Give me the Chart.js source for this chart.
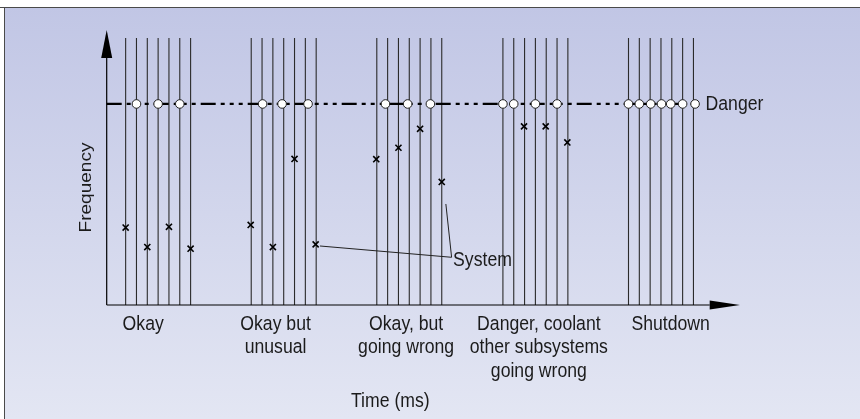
<!DOCTYPE html>
<html>
<head>
<meta charset="utf-8">
<script src="https://cdn.jsdelivr.net/npm/chart.js@4.4.1/dist/chart.umd.min.js"></script>
<style>
html,body{margin:0;padding:0;background:#fff;}
#wrap{width:860px;height:419px;position:relative;}
canvas{display:block;}
</style>
</head>
<body>
<div id="wrap"><canvas id="c" width="860" height="419"></canvas></div>
<script>
// ---- data (time units along x, frequency units along y) ----
const lineX = [1.75,2.75,3.75,4.75,5.75,6.75,7.75,
               13.35,14.35,15.35,16.35,17.35,18.35,19.35,
               24.95,25.95,26.95,27.95,28.95,29.95,30.95,
               36.6,37.6,38.6,39.6,40.6,41.6,42.6,
               48.2,49.2,50.2,51.2,52.2,53.2,54.2];
const lineTop = 100;
const dangerLevel = 75.3;
const dangerX = [2.75,4.75,6.75, 14.4,16.2,18.6, 25.75,27.8,29.9,
                 36.6,37.6,39.6,41.6, 48.2,49.2,50.25,51.25,52.1,53.2,54.35];
const dangerLineX = [0, 54.35];
const systemX = [1.75,3.75,5.75,7.75, 13.3,15.35,17.35,19.3,
                 24.9,26.95,28.95,30.95, 38.55,40.55,42.55];
const systemY = [29,21.7,29.3,21.1, 30,21.7,54.7,22.7,
                 54.6,58.9,66,46.1, 66.9,66.9,60.9];
const leaderX = [19.7, 31.86, 31.33];
const leaderY = [22.1, 17.87, 37.83];
const categories = [["Okay"],["Okay but","unusual"],["Okay, but","going wrong"],
                    ["Danger, coolant","other subsystems","going wrong"],["Shutdown"]];
const categoryX = [3.37, 15.6, 27.66, 39.92, 52.09];
const xTitle = "Time (ms)";
const yTitle = "Frequency";
const dangerLabel = "Danger";
const systemLabel = "System";
const xMin = 0, xMax = 58.5, yMin = 0, yMax = 103;
const xArrowBase = 55.7, yArrowBase = 92.5;

// ---- build library structures ----
const vLines = [];
lineX.forEach(x => { vLines.push({x:x,y:0}); vLines.push({x:x,y:lineTop}); vLines.push({x:x,y:null}); });
const dangerPts = dangerX.map(x => ({x:x, y:dangerLevel}));
const dangerLine = dangerLineX.map(x => ({x:x, y:dangerLevel}));
const systemPts = systemX.map((x,i) => ({x:x, y:systemY[i]}));
const leaderPts = leaderX.map((x,i) => ({x:x, y:leaderY[i]}));

const FONT = '"Liberation Sans", Arial, sans-serif';
function txt(ctx, s, x, y, size, sx, align, rot){
  ctx.save();
  ctx.translate(x, y);
  if (rot) ctx.rotate(rot);
  ctx.scale(sx, 1);
  ctx.font = size + 'px ' + FONT;
  ctx.textAlign = align;
  ctx.textBaseline = 'alphabetic';
  ctx.fillStyle = '#1b1b1b';
  ctx.fillText(s, 0, 0);
  ctx.restore();
}

const decor = {
  id: 'decor',
  beforeDraw(chart){
    const ctx = chart.ctx;
    ctx.save();
    ctx.fillStyle = '#ffffff';
    ctx.fillRect(0,0,chart.width,chart.height);
    const g = ctx.createLinearGradient(0,7,0,419);
    g.addColorStop(0,'#c1c6e5');
    g.addColorStop(1,'#e3e6f3');
    ctx.fillStyle = g;
    ctx.fillRect(4.5,7.5,chart.width,chart.height);
    ctx.strokeStyle = '#4a4a4a';
    ctx.lineWidth = 1;
    ctx.beginPath();
    ctx.moveTo(0,7.5); ctx.lineTo(chart.width,7.5);
    ctx.moveTo(4.5,7.5); ctx.lineTo(4.5,chart.height);
    ctx.stroke();
    ctx.restore();
  },
  afterDatasetsDraw(chart){
    const ctx = chart.ctx;
    const xs = chart.scales.x, ys = chart.scales.y;
    const x0 = xs.getPixelForValue(xMin), y0 = ys.getPixelForValue(yMin);
    const xt = xs.getPixelForValue(xMax), yt = ys.getPixelForValue(yMax);
    const xb = xs.getPixelForValue(xArrowBase), yb = ys.getPixelForValue(yArrowBase);
    ctx.save();
    ctx.strokeStyle = '#000'; ctx.fillStyle = '#000'; ctx.lineWidth = 1.2;
    ctx.beginPath();
    ctx.moveTo(x0, y0); ctx.lineTo(x0, yb);
    ctx.moveTo(x0, y0); ctx.lineTo(xb, y0);
    ctx.stroke();
    ctx.beginPath();
    ctx.moveTo(x0, yt); ctx.lineTo(x0-5.5, yb); ctx.lineTo(x0+5.5, yb); ctx.closePath(); ctx.fill();
    ctx.beginPath();
    ctx.moveTo(xt, y0); ctx.lineTo(xb, y0-4.5); ctx.lineTo(xb, y0+4.5); ctx.closePath(); ctx.fill();
    ctx.restore();

    const S = 20.5, SX = 0.86;
    categories.forEach((lines, i) => {
      const cx = xs.getPixelForValue(categoryX[i]);
      lines.forEach((l, j) => txt(ctx, l, cx, y0 + 24.5 + j*23.5, S, SX, 'center'));
    });
    txt(ctx, xTitle, xs.getPixelForValue(26.2), y0 + 102, S, SX, 'center');
    txt(ctx, dangerLabel, xs.getPixelForValue(dangerLineX[1]) + 10.5, ys.getPixelForValue(dangerLevel) + 6.5, S, SX, 'left');
    txt(ctx, systemLabel, xs.getPixelForValue(leaderX[1]) + 1.5, ys.getPixelForValue(leaderY[1]) + 8.5, S, SX, 'left');
    txt(ctx, yTitle, x0 - 16, ys.getPixelForValue(44), 17, 1.12, 'center', -Math.PI/2);
  }
};

new Chart(document.getElementById('c'), {
  type: 'scatter',
  data: {
    datasets: [
      { label:'lines', data: vLines, showLine:true, spanGaps:false, borderColor:'#2b2b2b', borderWidth:1.1,
        pointRadius:0, order:5, clip:false },
      { label:'leader', data: leaderPts, showLine:true, borderColor:'#222', borderWidth:1,
        pointRadius:0, order:4, clip:false },
      { label:'dangerLine', data: dangerLine, showLine:true, borderColor:'#000', borderWidth:2.2,
        borderDash:[15,5,4,5,4,5,4,5], pointRadius:0, order:3, clip:false },
      { label:'System', data: systemPts, showLine:false, pointStyle:'crossRot', pointRadius:4.3,
        borderColor:'#000', borderWidth:1.6, order:1, clip:false },
      { label:'Danger', data: dangerPts, showLine:false, pointStyle:'circle', pointRadius:4.3,
        backgroundColor:'#ffffff', borderColor:'#222', borderWidth:1, order:0, clip:false }
    ]
  },
  options: {
    responsive:false, animation:false,
    layout:{ padding:{ left:106.7, right:120, top:30, bottom:114 } },
    plugins:{ legend:{display:false}, tooltip:{enabled:false} },
    elements:{ point:{ hoverRadius:4 } },
    events: [],
    scales:{
      x:{ type:'linear', min:xMin, max:xMax, display:false },
      y:{ type:'linear', min:yMin, max:yMax, display:false }
    }
  },
  plugins:[decor]
});
</script>
</body>
</html>
